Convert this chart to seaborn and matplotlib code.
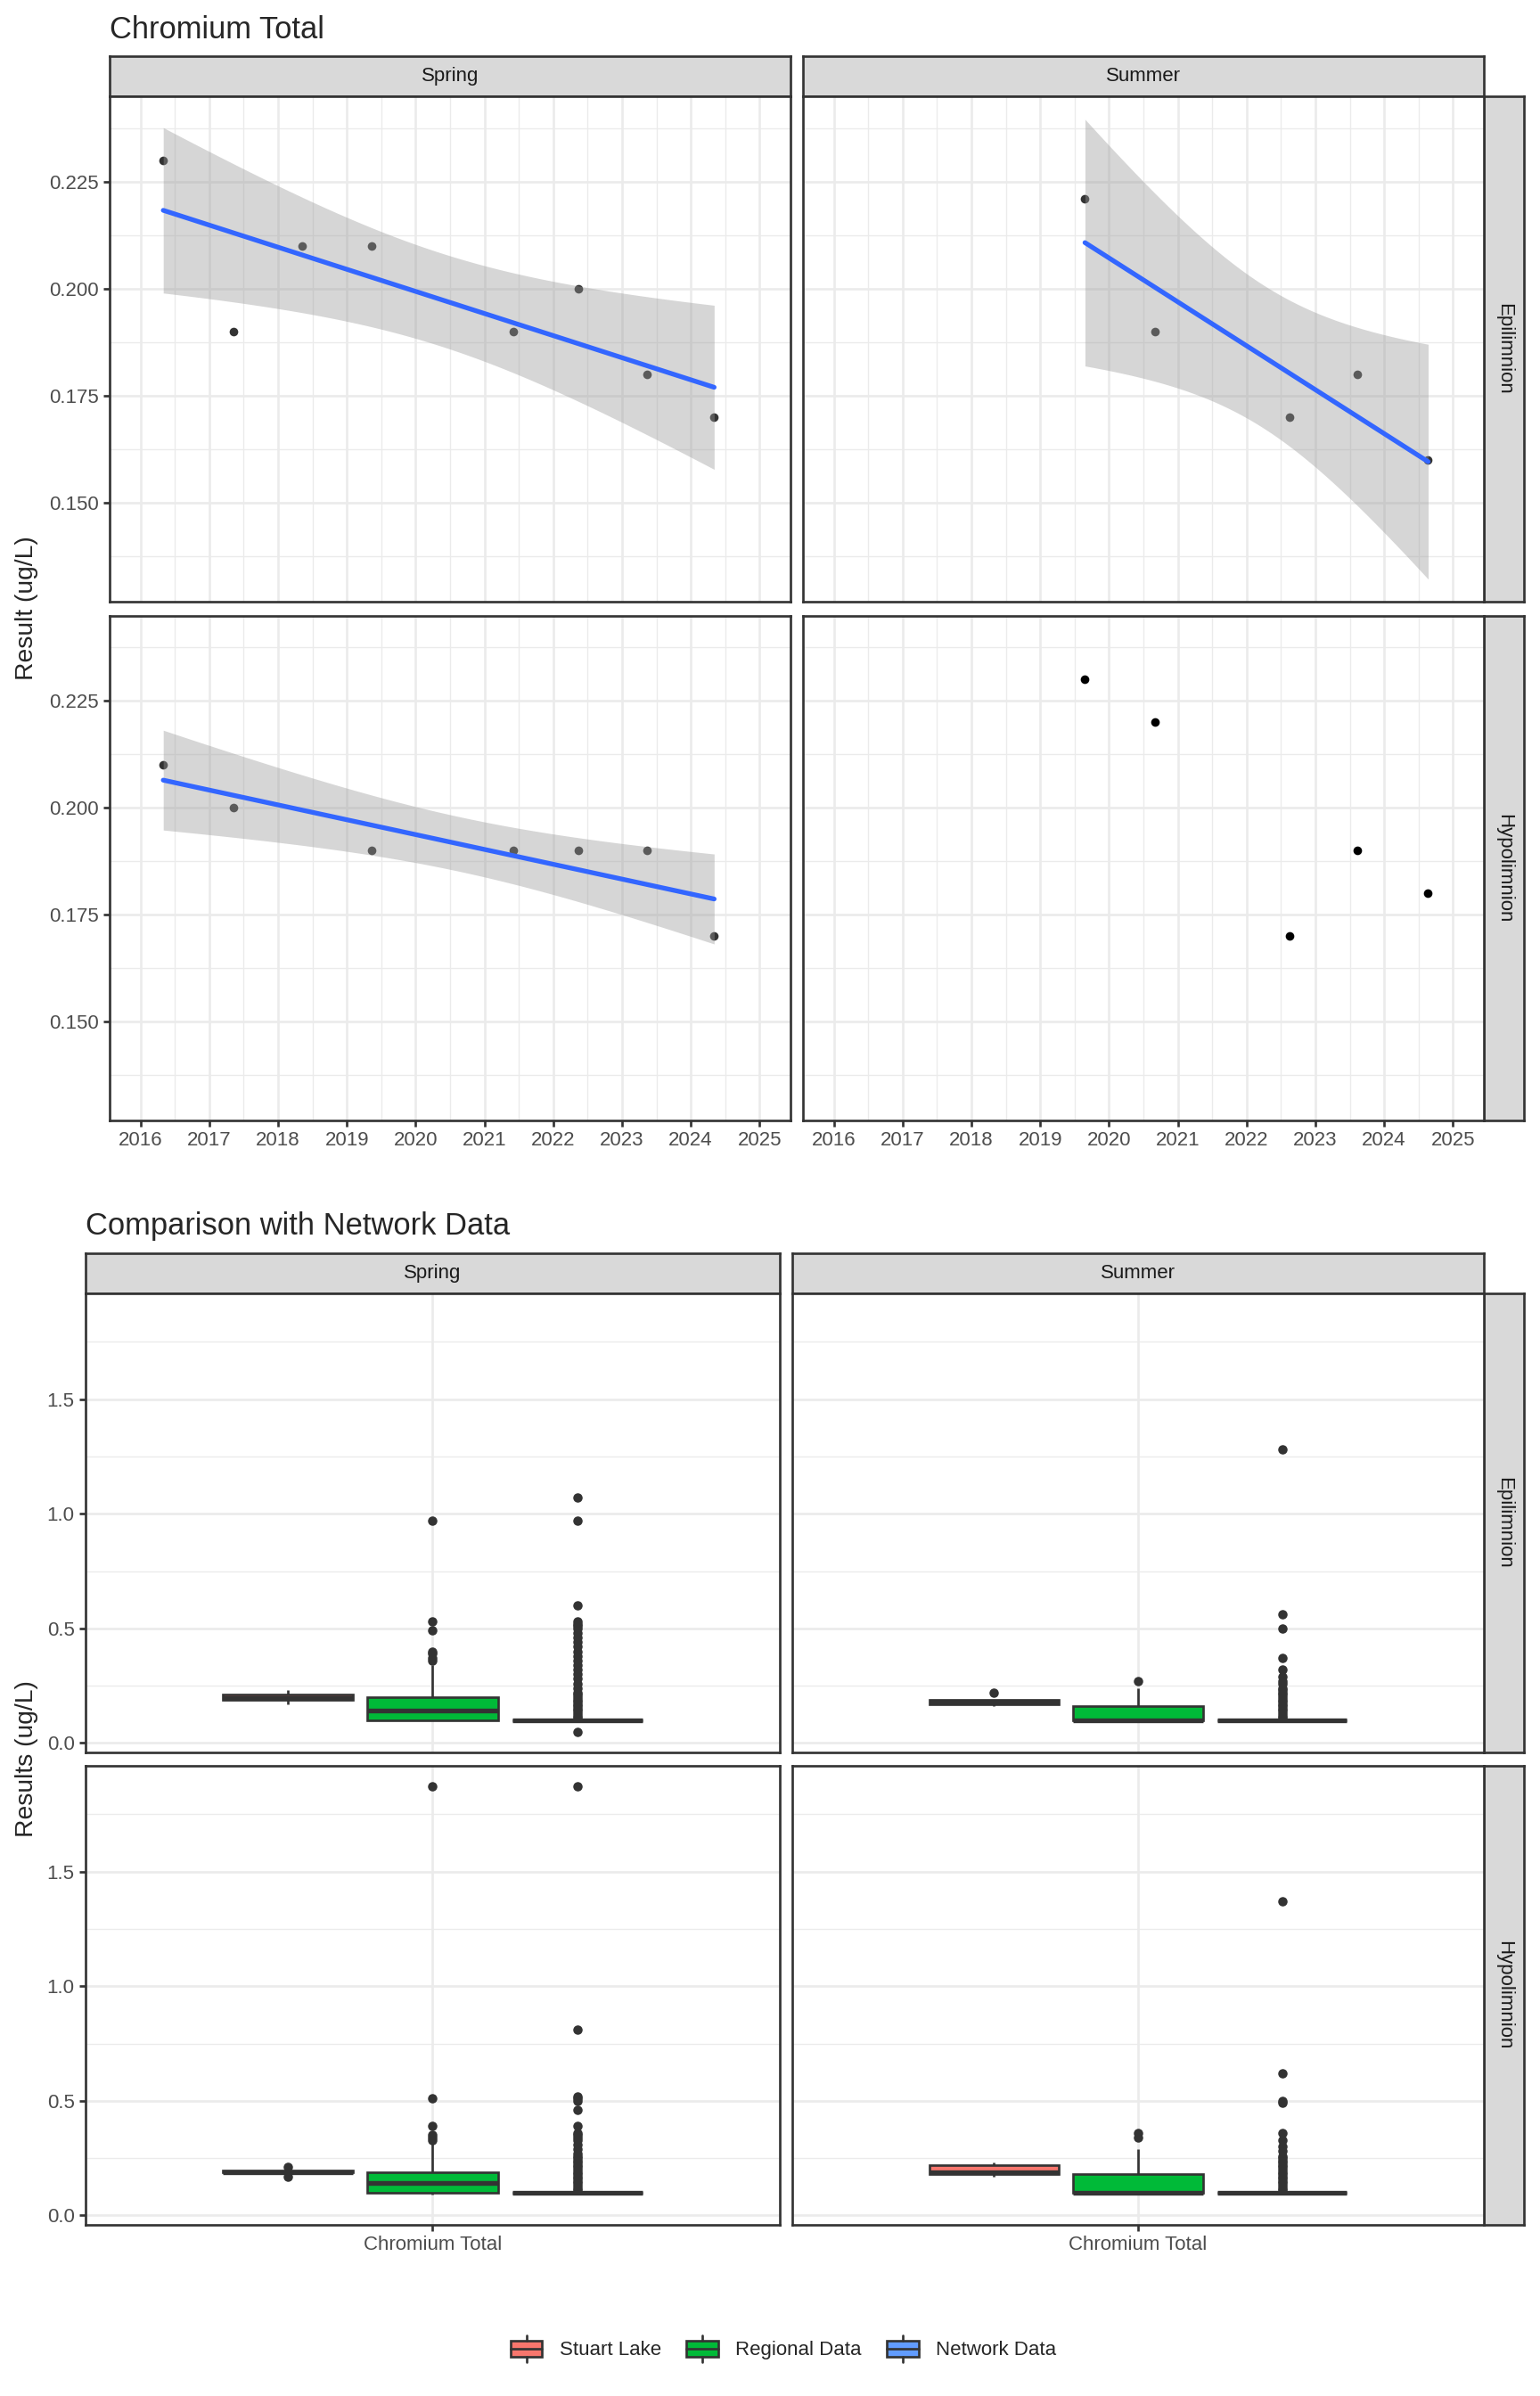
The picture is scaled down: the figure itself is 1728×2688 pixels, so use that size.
import numpy as np
import pandas as pd
import matplotlib
matplotlib.use("Agg")
import matplotlib.pyplot as plt
import seaborn as sns
from matplotlib.patches import Patch, Rectangle
from matplotlib.lines import Line2D
from matplotlib.legend_handler import HandlerBase
from matplotlib.ticker import FixedLocator, FormatStrFormatter

# ================================
# Data: Stuart Lake samples (decimal year, result in ug/L)
# ================================
spring_epi_year = [2016.33, 2017.35, 2018.35, 2019.36, 2021.42, 2022.36, 2023.36, 2024.34]
spring_epi_result = [0.23, 0.19, 0.21, 0.21, 0.19, 0.20, 0.18, 0.17]
spring_hypo_year = [2016.33, 2017.35, 2019.36, 2021.42, 2022.36, 2023.36, 2024.34]
spring_hypo_result = [0.21, 0.20, 0.19, 0.19, 0.19, 0.19, 0.17]
summer_epi_year = [2019.65, 2020.67, 2022.63, 2023.61, 2024.64]
summer_epi_result = [0.221, 0.19, 0.17, 0.18, 0.16]
summer_hypo_year = [2019.65, 2020.67, 2022.63, 2023.61, 2024.64]
summer_hypo_result = [0.23, 0.22, 0.17, 0.19, 0.18]

# Regional data: distinct values and how often they occur
regional_spring_epi_values = [0.10, 0.12, 0.14, 0.16, 0.18, 0.20, 0.24, 0.28, 0.34,
                              0.36, 0.37, 0.39, 0.40, 0.49, 0.53, 0.97]
regional_spring_epi_counts = [20, 6, 12, 6, 5, 8, 4, 3, 1, 1, 1, 1, 1, 1, 1, 1]
regional_summer_epi_values = [0.10, 0.12, 0.14, 0.16, 0.20, 0.24, 0.27]
regional_summer_epi_counts = [15, 2, 3, 4, 2, 1, 1]
regional_spring_hypo_values = [0.09, 0.10, 0.12, 0.14, 0.16, 0.19, 0.22, 0.26, 0.32,
                               0.33, 0.34, 0.35, 0.39, 0.51, 1.87]
regional_spring_hypo_counts = [1, 18, 6, 10, 8, 10, 3, 2, 1, 1, 1, 1, 1, 1, 1]
regional_summer_hypo_values = [0.10, 0.12, 0.14, 0.16, 0.18, 0.22, 0.29, 0.34, 0.36]
regional_summer_hypo_counts = [18, 3, 3, 1, 5, 2, 1, 1, 1]

# Network data: most results at the 0.10 detection value, plus the spread-out ones
network_base_value = 0.10
network_base_count = 150
network_spring_epi_other = [0.05, 0.11, 0.12, 0.13, 0.14, 0.15, 0.16, 0.17, 0.18, 0.19,
                            0.20, 0.21, 0.22, 0.24, 0.26, 0.28, 0.30, 0.32, 0.34, 0.36,
                            0.38, 0.40, 0.42, 0.44, 0.46, 0.48, 0.50, 0.51, 0.52, 0.53,
                            0.60, 0.97, 1.07]
network_summer_epi_other = [0.11, 0.12, 0.13, 0.14, 0.15, 0.16, 0.17, 0.18, 0.19, 0.20,
                            0.21, 0.22, 0.23, 0.24, 0.26, 0.27, 0.29, 0.32, 0.37, 0.50,
                            0.56, 1.28]
network_spring_hypo_other = [0.11, 0.12, 0.13, 0.14, 0.15, 0.16, 0.17, 0.18, 0.19, 0.20,
                             0.21, 0.22, 0.23, 0.24, 0.25, 0.26, 0.27, 0.29, 0.31, 0.33,
                             0.34, 0.35, 0.36, 0.39, 0.46, 0.50, 0.51, 0.52, 0.81, 1.87]
network_summer_hypo_other = [0.11, 0.12, 0.13, 0.14, 0.15, 0.16, 0.17, 0.18, 0.19, 0.20,
                             0.21, 0.22, 0.23, 0.24, 0.25, 0.26, 0.28, 0.30, 0.33, 0.36,
                             0.49, 0.50, 0.62, 1.37]

seasons = ["Spring", "Summer"]
layers = ["Epilimnion", "Hypolimnion"]
sources = ["Stuart Lake", "Regional Data", "Network Data"]
source_colors = ["#F8766D", "#00BA38", "#619CFF"]
parameter = "Chromium Total"
year_ticks = [2016, 2017, 2018, 2019, 2020, 2021, 2022, 2023, 2024, 2025]
top_y_ticks = [0.150, 0.175, 0.200, 0.225]
bottom_y_ticks = [0.0, 0.5, 1.0, 1.5]

trend = {
    ("Spring", "Epilimnion"): (spring_epi_year, spring_epi_result),
    ("Spring", "Hypolimnion"): (spring_hypo_year, spring_hypo_result),
    ("Summer", "Epilimnion"): (summer_epi_year, summer_epi_result),
    ("Summer", "Hypolimnion"): (summer_hypo_year, summer_hypo_result),
}
smooth_panels = [("Spring", "Epilimnion"), ("Spring", "Hypolimnion"), ("Summer", "Epilimnion")]
regional = {
    ("Spring", "Epilimnion"): (regional_spring_epi_values, regional_spring_epi_counts),
    ("Spring", "Hypolimnion"): (regional_spring_hypo_values, regional_spring_hypo_counts),
    ("Summer", "Epilimnion"): (regional_summer_epi_values, regional_summer_epi_counts),
    ("Summer", "Hypolimnion"): (regional_summer_hypo_values, regional_summer_hypo_counts),
}
network = {
    ("Spring", "Epilimnion"): network_spring_epi_other,
    ("Spring", "Hypolimnion"): network_spring_hypo_other,
    ("Summer", "Epilimnion"): network_summer_epi_other,
    ("Summer", "Hypolimnion"): network_summer_hypo_other,
}

# long table for the box plots
rows = []
for key in trend:
    for v in trend[key][1]:
        rows.append((key[0], key[1], "Stuart Lake", v))
    for v in np.repeat(regional[key][0], regional[key][1]):
        rows.append((key[0], key[1], "Regional Data", v))
    for v in [network_base_value] * network_base_count + network[key]:
        rows.append((key[0], key[1], "Network Data", v))
box_df = pd.DataFrame(rows, columns=["Season", "Layer", "Source", "Result"])
box_df["Parameter"] = parameter

# ================================
# Style
# ================================
sns.set_style("white")
plt.rcParams["font.family"] = ["Liberation Sans", "DejaVu Sans"]

W, H, DPI = 1728, 2688, 180
fig = plt.figure(figsize=(W / DPI, H / DPI), dpi=DPI)
fig.patch.set_facecolor("white")

DARK = "#333333"
LW = 1.07
TICK_FS = 8.9
TITLE_FS = 13.8
AXIS_FS = 11.3


def px_axes(left, top, right, bottom):
    return fig.add_axes([left / W, 1 - bottom / H, (right - left) / W, (bottom - top) / H])


def strip(left, top, right, bottom, text, rotation=0):
    ax = px_axes(left, top, right, bottom)
    ax.set_facecolor("#D9D9D9")
    ax.set_xticks([])
    ax.set_yticks([])
    for s in ax.spines.values():
        s.set_color(DARK)
        s.set_linewidth(LW)
    ax.text(0.5, 0.5, text, ha="center", va="center", rotation=rotation,
            fontsize=TICK_FS, color="#1A1A1A", transform=ax.transAxes)


def style_panel(ax, show_x, show_y):
    ax.set_facecolor("white")
    ax.set_axisbelow(True)
    for s in ax.spines.values():
        s.set_visible(True)
        s.set_color(DARK)
        s.set_linewidth(LW)
    ax.grid(True, which="major", color="#EBEBEB", linewidth=LW)
    ax.grid(True, which="minor", color="#EBEBEB", linewidth=LW / 2)
    ax.tick_params(which="major", direction="out", length=2.75, width=LW, color=DARK,
                   labelsize=TICK_FS, labelcolor="#4D4D4D", pad=2.2,
                   bottom=show_x, labelbottom=show_x, left=show_y, labelleft=show_y,
                   top=False, right=False)
    ax.tick_params(which="minor", length=0)
    ax.set_xlabel("")
    ax.set_ylabel("")


def t975(df):
    try:
        from scipy import stats
        return stats.t.ppf(0.975, df)
    except Exception:
        return {3: 3.182446, 4: 2.776445, 5: 2.570582, 6: 2.446912}[df]


# ================================
# Part 1: trend panels
# ================================
bands = {}
for key in smooth_panels:
    x = np.array(trend[key][0])
    y = np.array(trend[key][1])
    n = len(x)
    b1, b0 = np.polyfit(x, y, 1)
    resid = y - (b0 + b1 * x)
    s2 = np.sum(resid ** 2) / (n - 2)
    xs = np.linspace(x.min(), x.max(), 80)
    se = np.sqrt(s2 * (1 / n + (xs - x.mean()) ** 2 / np.sum((x - x.mean()) ** 2)))
    fit = b0 + b1 * xs
    t = t975(n - 2)
    bands[key] = (xs, fit - t * se, fit + t * se)

all_y = np.concatenate([np.array(v[1]) for v in trend.values()] +
                       [np.concatenate([b[1], b[2]]) for b in bands.values()])
span = all_y.max() - all_y.min()
top_ylim = (all_y.min() - 0.05 * span, all_y.max() + 0.05 * span)
top_xlim = (year_ticks[0] - 0.05 * (year_ticks[-1] - year_ticks[0]),
            year_ticks[-1] + 0.05 * (year_ticks[-1] - year_ticks[0]))

top_cols = [(123, 887), (901, 1665)]
top_rows = [(108, 675.5), (690.5, 1257)]
strip_right = (1665, 1710)

for j, season in enumerate(seasons):
    strip(top_cols[j][0], 63, top_cols[j][1], 108, season)
for i, layer in enumerate(layers):
    strip(strip_right[0], top_rows[i][0], strip_right[1], top_rows[i][1], layer, rotation=-90)

for i, layer in enumerate(layers):
    for j, season in enumerate(seasons):
        ax = px_axes(top_cols[j][0], top_rows[i][0], top_cols[j][1], top_rows[i][1])
        key = (season, layer)
        x = np.array(trend[key][0])
        y = np.array(trend[key][1])
        if key in smooth_panels:
            sns.regplot(x=x, y=y, ax=ax, ci=None, truncate=True,
                        scatter_kws=dict(s=15, color="black", linewidths=0, zorder=2),
                        line_kws=dict(color="#3366FF", linewidth=2.13, zorder=4))
            xs, lo, hi = bands[key]
            ax.fill_between(xs, lo, hi, color="#999999", alpha=0.4, linewidth=0, zorder=3)
        else:
            sns.scatterplot(x=x, y=y, ax=ax, color="black", s=15, linewidth=0, zorder=2)
        ax.set_xlim(top_xlim)
        ax.set_ylim(top_ylim)
        ax.xaxis.set_major_locator(FixedLocator(year_ticks))
        ax.xaxis.set_minor_locator(FixedLocator([yr + 0.5 for yr in year_ticks]))
        ax.yaxis.set_major_locator(FixedLocator(top_y_ticks))
        ax.yaxis.set_minor_locator(FixedLocator([v - 0.0125 for v in top_y_ticks] +
                                                [top_y_ticks[-1] + 0.0125]))
        ax.yaxis.set_major_formatter(FormatStrFormatter("%.3f"))
        ax.set_xticklabels([str(yr) for yr in year_ticks])
        style_panel(ax, show_x=(i == 1), show_y=(j == 0))

fig.text(123 / W, 1 - 43 / H, "Chromium Total", fontsize=TITLE_FS, ha="left", va="baseline")
fig.text(30 / W, 1 - (108 + 1257) / 2 / H, "Result (ug/L)", fontsize=AXIS_FS, rotation=90,
         ha="center", va="center")

# ================================
# Part 2: comparison box plots
# ================================
span = box_df["Result"].max() - box_df["Result"].min()
bottom_ylim = (box_df["Result"].min() - 0.05 * span, box_df["Result"].max() + 0.05 * span)

bottom_cols = [(96, 875), (889, 1665)]
bottom_rows = [(1451, 1966), (1981, 2496)]

for j, season in enumerate(seasons):
    strip(bottom_cols[j][0], 1406, bottom_cols[j][1], 1451, season)
for i, layer in enumerate(layers):
    strip(strip_right[0], bottom_rows[i][0], strip_right[1], bottom_rows[i][1], layer,
          rotation=-90)

for i, layer in enumerate(layers):
    for j, season in enumerate(seasons):
        ax = px_axes(bottom_cols[j][0], bottom_rows[i][0], bottom_cols[j][1], bottom_rows[i][1])
        sub = box_df[(box_df["Season"] == season) & (box_df["Layer"] == layer)]
        sns.boxplot(data=sub, x="Parameter", y="Result", hue="Source",
                    hue_order=sources, palette=source_colors, ax=ax,
                    width=0.75, gap=0.1, saturation=1, linecolor=DARK, linewidth=LW,
                    fliersize=4.2, showcaps=False, legend=False,
                    flierprops=dict(marker="o", markerfacecolor=DARK,
                                    markeredgecolor=DARK, markeredgewidth=0),
                    medianprops=dict(linewidth=2.13, color=DARK))
        ax.set_xlim(-0.6, 0.6)
        ax.set_ylim(bottom_ylim)
        ax.yaxis.set_major_locator(FixedLocator(bottom_y_ticks))
        ax.yaxis.set_minor_locator(FixedLocator([v + 0.25 for v in bottom_y_ticks]))
        ax.yaxis.set_major_formatter(FormatStrFormatter("%.1f"))
        style_panel(ax, show_x=(i == 1), show_y=(j == 0))
        ax.grid(False, which="minor", axis="x")

fig.text(96 / W, 1 - 1385 / H, "Comparison with Network Data", fontsize=TITLE_FS,
         ha="left", va="baseline")
fig.text(30 / W, 1 - (1451 + 2496) / 2 / H, "Results (ug/L)", fontsize=AXIS_FS, rotation=90,
         ha="center", va="center")


# legend keys drawn like ggplot boxplot keys
class BoxKey(HandlerBase):
    def create_artists(self, legend, orig_handle, xdescent, ydescent, width, height,
                       fontsize, trans):
        x0, y0 = -xdescent, -ydescent
        box = Rectangle((x0 + 0.125 * width, y0 + 0.25 * height), 0.75 * width, 0.5 * height,
                        facecolor=orig_handle.get_facecolor(), edgecolor=DARK,
                        linewidth=LW, transform=trans)
        cx = x0 + 0.5 * width
        segs = [([cx, cx], [y0 + 0.1 * height, y0 + 0.25 * height]),
                ([cx, cx], [y0 + 0.75 * height, y0 + 0.9 * height]),
                ([x0 + 0.125 * width, x0 + 0.875 * width], [y0 + 0.5 * height] * 2)]
        lines = [Line2D(sx, sy, color=DARK, linewidth=LW, transform=trans) for sx, sy in segs]
        return [box] + lines


handles = [Patch(facecolor=c, edgecolor=DARK, label=s) for s, c in zip(sources, source_colors)]
fig.legend(handles=handles, loc="center", bbox_to_anchor=(876 / W, 1 - 2635 / H), ncol=3,
           frameon=False, fontsize=TICK_FS, handler_map={Patch: BoxKey()},
           handlelength=2.15, handleheight=2.15, handletextpad=0.6, columnspacing=1.0)

fig.savefig("out.png", dpi=DPI, facecolor="white")
